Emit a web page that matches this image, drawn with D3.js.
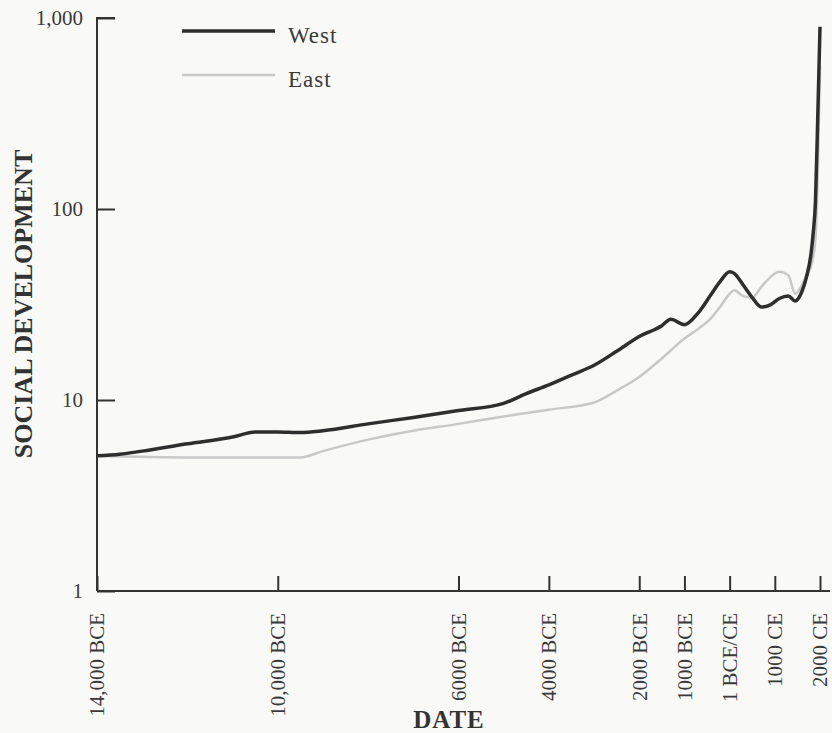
<!DOCTYPE html>
<html>
<head>
<meta charset="utf-8">
<script src="https://cdn.jsdelivr.net/npm/d3@7"></script>
<style>
  body { margin: 0; background: #f9f9f8; }
  svg { display: block; }
  svg text { font-family: "Times New Roman", "Liberation Serif", "DejaVu Serif", serif; }
</style>
</head>
<body>
<div class="graph"></div>
<script>
// years (negative = BCE) and social development scores
const westYears = [-14000, -13500, -13000, -12000, -11000, -10500, -10000, -9500, -9000, -8000, -7000, -6000, -5000, -4500, -4000, -3500, -3000, -2500, -2000, -1500, -1300, -1000, -700, -400, -200, 0, 100, 300, 500, 700, 900, 1100, 1300, 1450, 1600, 1700, 1800, 1850, 1900, 1950, 2000];
const westValues = [5.1, 5.2, 5.4, 5.9, 6.4, 6.8, 6.8, 6.75, 6.9, 7.5, 8.1, 8.8, 9.6, 10.8, 12.0, 13.5, 15.2, 18.0, 21.5, 24.5, 26.5, 24.8, 28.5, 36, 42, 47, 46, 40, 34.4, 30.7, 31.5, 34, 35, 33, 37, 44, 58, 75, 110, 300, 900];

const eastYears = [-14000, -12000, -10000, -9500, -9000, -8000, -7000, -6000, -5000, -4000, -3000, -2500, -2000, -1500, -1000, -700, -400, -200, 0, 100, 300, 500, 700, 900, 1100, 1300, 1450, 1600, 1700, 1800, 1900, 1950, 2000];
const eastValues = [5.1, 5.0, 5.0, 5.0, 5.4, 6.2, 6.9, 7.5, 8.2, 8.9, 9.7, 11.2, 13.2, 16.5, 21, 23.5, 27, 31, 36, 37.5, 35, 34.4, 39, 44, 47, 45, 36, 40, 45, 50, 70, 150, 565];

const xTickYears = [-14000, -10000, -6000, -4000, -2000, -1000, 0, 1000, 2000];
const xTickLabels = ["14,000 BCE", "10,000 BCE", "6000 BCE", "4000 BCE", "2000 BCE", "1000 BCE", "1 BCE/CE", "1000 CE", "2000 CE"];
const yTicks = [1, 10, 100, 1000];

const width = 832;
const height = 733;
const serif = '"Times New Roman", "Liberation Serif", "DejaVu Serif", serif';

const svg = d3.select('.graph').append('svg')
  .attr('width', width)
  .attr('height', height);

const x = d3.scaleLinear().domain([-14000, 2000]).range([97, 820]);
const y = d3.scaleLog().domain([1, 1000]).range([591, 18]);

const west = westYears.map((d, i) => ({ year: d, value: westValues[i] }));
const east = eastYears.map((d, i) => ({ year: d, value: eastValues[i] }));

const line = d3.line()
  .x(d => x(d.year))
  .y(d => y(d.value))
  .curve(d3.curveMonotoneX);

// axes
const yAxis = svg.append('g')
  .attr('transform', 'translate(97,0)')
  .call(d3.axisLeft(y).tickValues(yTicks).tickFormat(d3.format(','))
    .tickSize(-18).tickSizeOuter(0).tickPadding(14));

const xAxis = svg.append('g')
  .attr('transform', 'translate(0,591)')
  .call(d3.axisBottom(x).tickValues(xTickYears).tickFormat((d, i) => xTickLabels[i])
    .tickSize(-15).tickSizeOuter(0));

[yAxis, xAxis].forEach(g => {
  g.attr('font-family', serif).attr('font-size', 21);
  g.select('.domain').attr('stroke', '#333').attr('stroke-width', 2);
  g.selectAll('.tick line').attr('stroke', '#333').attr('stroke-width', 2);
  g.selectAll('text').attr('fill', '#3a3a3a').style('font-family', serif).style('font-size', '21px');
});

yAxis.select('.domain').attr('d', 'M0,' + y(1) + 'V' + y(1000) + 'H18');

xAxis.select('.domain').attr('d', 'M97,0H830');

xAxis.selectAll('.tick text')
  .attr('transform', 'rotate(-90)')
  .attr('x', -22)
  .attr('y', 0)
  .attr('dy', '0.33em')
  .attr('text-anchor', 'end');

// axis titles
svg.append('text')
  .attr('transform', 'translate(32,304) rotate(-90)')
  .attr('text-anchor', 'middle')
  .attr('font-size', 26)
  .attr('font-weight', 'bold')
  .attr('fill', '#333')
  .text('SOCIAL DEVELOPMENT');

svg.append('text')
  .attr('x', 449)
  .attr('y', 728)
  .attr('text-anchor', 'middle')
  .attr('font-size', 25)
  .attr('font-weight', 'bold')
  .attr('letter-spacing', 1)
  .attr('fill', '#333')
  .text('DATE');

// lines (east first so west sits on top)
svg.append('path')
  .datum(east)
  .attr('fill', 'none')
  .attr('stroke', '#c8c8c8')
  .attr('stroke-width', 2.5)
  .attr('d', line);

svg.append('path')
  .datum(west)
  .attr('fill', 'none')
  .attr('stroke', '#2e2e2e')
  .attr('stroke-width', 3.5)
  .attr('d', line);

// legend
const legend = svg.selectAll('.legend')
  .data([{ name: 'West', color: '#2e2e2e', w: 3.5 }, { name: 'East', color: '#c8c8c8', w: 2.5 }])
  .enter().append('g')
  .attr('class', 'legend')
  .attr('transform', (d, i) => 'translate(0,' + (31 + i * 44) + ')');

legend.append('line')
  .attr('x1', 182)
  .attr('x2', 275)
  .attr('stroke', d => d.color)
  .attr('stroke-width', d => d.w);

legend.append('text')
  .attr('x', 288)
  .attr('y', 12)
  .attr('font-size', 23)
  .attr('letter-spacing', 1)
  .attr('fill', '#3a3a3a')
  .text(d => d.name);
</script>
</body>
</html>
